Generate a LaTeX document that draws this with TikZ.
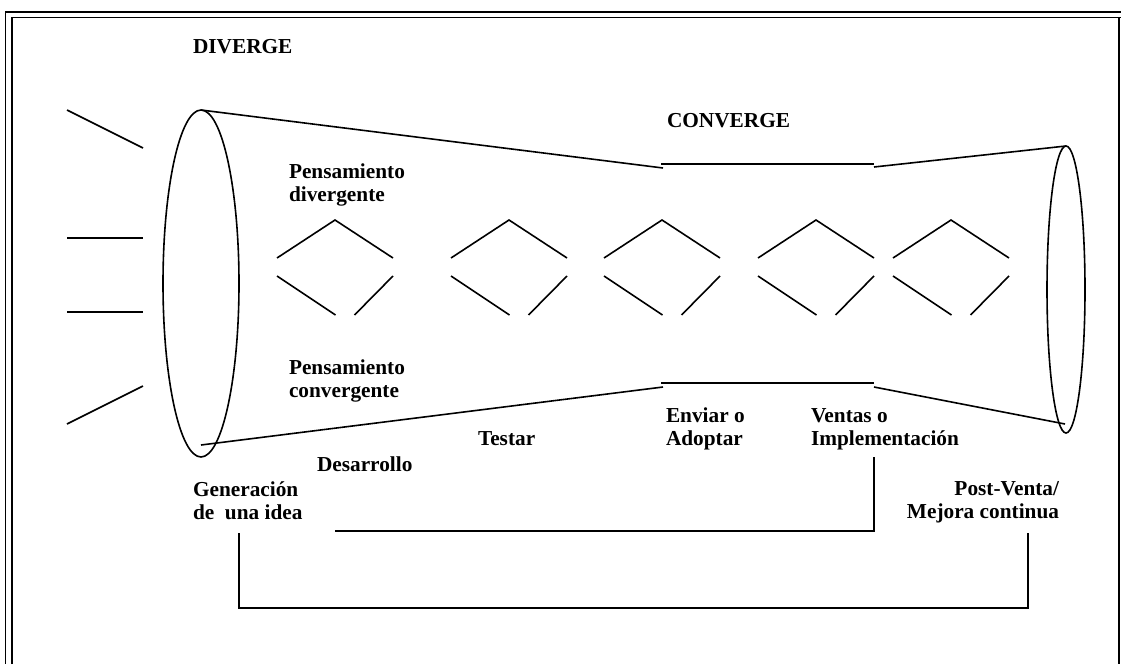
\documentclass[tikz,border=0pt]{standalone}
\usepackage{fontspec}
\setmainfont{Liberation Serif}
\usetikzlibrary{shapes.geometric}
\begin{document}
\begin{tikzpicture}[x=1pt,y=-1pt,
  stroke/.style={line width=1.6pt},
  lbl/.style={font=\bfseries\fontsize{21.3}{23}\selectfont, inner sep=0pt, outer sep=0pt, anchor=base west, align=left},
  cone/.style={draw, ellipse, line width=1.6pt, inner sep=0pt, outer sep=0pt}]
\useasboundingbox (0,0) rectangle (1121,664);

% double frame, open at the bottom
\draw[line width=2.5pt] (1121,12) -- (5.5,12);
\draw[line width=1.5pt] (5.5,11) -- (5.5,664);
\draw[line width=1.5pt] (12,664) -- (12,17.3) -- (1121,17.3);
\draw[line width=1.5pt] (1119,17.3) -- (1119,664);

% rays entering the wide mouth
\draw[stroke] (67,110) -- (143,148);
\draw[stroke] (67,238) -- (143,238);
\draw[stroke] (67,312) -- (143,312);
\draw[stroke] (143,386) -- (67,424);

% the two open ends of the funnel
\node[cone, minimum width=76pt, minimum height=347pt] (lcone) at (201,283.5) {};
\node[cone, minimum width=38pt, minimum height=287pt] (rcone) at (1066,289.5) {};

% funnel walls
\coordinate (tneck1) at (663,168);
\coordinate (tbar1) at (661,164);
\coordinate (tbar2) at (874,164);
\coordinate (tneck2) at (874,167);
\coordinate (bstart) at (201,445);
\coordinate (bneck1) at (663,387);
\coordinate (bbar1) at (661,383);
\coordinate (bbar2) at (874,383);
\coordinate (bneck2) at (874,387);
\coordinate (bend) at (1065,424);
\draw[stroke] (lcone.north) -- (tneck1);
\draw[stroke] (tbar1) -- (tbar2);
\draw[stroke] (tneck2) -- (rcone.north);
\draw[stroke] (bstart) -- (bneck1);
\draw[stroke] (bbar1) -- (bbar2);
\draw[stroke] (bneck2) -- (bend);

% open diamonds: diverge above, converge below
\foreach \l in {277,451,604,758,893} {
  \draw[stroke] (\l,258) -- (\l+58,220) -- (\l+116,258);
  \draw[stroke] (\l,276) -- (\l+58.5,315);
  \draw[stroke] (\l+77.5,315) -- (\l+116,276);
}

% labels (multi-line labels are placed by the baseline of their last line)
\node[lbl] (diverge) at (193,53) {DIVERGE};
\node[lbl] (converge) at (667,127) {CONVERGE};
\node[lbl] (pdiv) at (289,201) {Pensamiento\\divergente};
\node[lbl] (pconv) at (289,397) {Pensamiento\\convergente};
\node[lbl] (desarrollo) at (317,471) {Desarrollo};
\node[lbl] (testar) at (478,445) {Testar};
\node[lbl] (gen) at (193,519) {Generación\\de\ \ una idea};
\node[lbl] (enviar) at (666,445) {Enviar o\\Adoptar};
\node[lbl] (ventas) at (811,445) {Ventas o\\Implementación};
\node[lbl, anchor=base east, align=right] (post) at (1059,518) {Post-Venta/\\Mejora continua};

% feedback brackets
\coordinate (ib1) at (335,531);
\coordinate (ib2) at (874,531);
\coordinate (ib3) at (874,457);
\draw[stroke] (ib1) -- (ib2) -- (ib3);
\coordinate (ob1) at (239,533);
\coordinate (ob2) at (239,608);
\coordinate (ob3) at (1028,608);
\coordinate (ob4) at (1028,533);
\draw[stroke] (ob1) -- (ob2) -- (ob3) -- (ob4);
\end{tikzpicture}
\end{document}
